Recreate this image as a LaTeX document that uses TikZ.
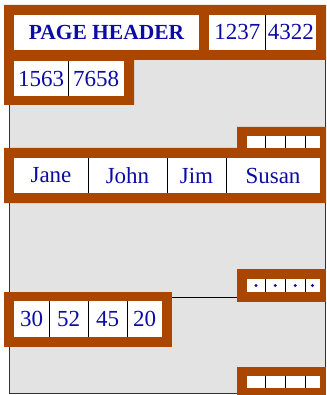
\documentclass[tikz,border=0pt]{standalone}
\usepackage{fontspec}
\setmainfont{Liberation Serif}
\definecolor{frameorange}{RGB}{170,70,0}
\definecolor{pagegray}{RGB}{227,227,227}
\definecolor{txtblue}{RGB}{12,12,165}
\begin{document}
\begin{tikzpicture}[x=1pt,y=-1pt,
  cell/.style={rectangle,fill=white,inner sep=0pt,outer sep=0pt,text=txtblue,font=\fontsize{23}{23}\selectfont},
  hdrcell/.style={cell,font=\fontsize{21.5}{22}\selectfont\bfseries},
  tiny/.style={rectangle,fill=white,inner sep=0pt,outer sep=0pt},
  frame/.style={fill=frameorange},
  divider/.style={black,line width=0.8pt},
  dot/.style={circle,fill=txtblue,inner sep=0pt,minimum size=3.4pt}]
\useasboundingbox (0,0) rectangle (326,395);
% page
\draw[fill=pagegray,draw=black!80,line width=0.9pt] (9.5,40) rectangle (325.5,393.5);
\draw[black,line width=0.9pt] (9.5,297) -- (237,297);
% frames
\fill[frame] (4,5) -- (326,5) -- (326,60) -- (134,60) -- (134,105) -- (4,105) -- cycle;
\fill[frame] (237,127) -- (326,127) -- (326,203) -- (4,203) -- (4,148) -- (237,148) -- cycle;
\fill[frame] (237,269) rectangle (326,302);
\fill[frame] (4,292) rectangle (172,347);
\fill[frame] (237,367) rectangle (326,395);
% header row
\node[hdrcell,minimum width=185pt,minimum height=35pt] (hdr) at (106.5,32.5) {PAGE HEADER};
\node[cell,minimum width=56.5pt,minimum height=35pt] (a1) at (237.25,32.5) {1237};
\node[cell,minimum width=50.5pt,minimum height=35pt] (a2) at (290.75,32.5) {4322};
\draw[divider] (a1.north east) -- (a1.south east);
% second row
\node[cell,minimum width=54.3pt,minimum height=35pt] (b1) at (41.15,78.5) {1563};
\node[cell,minimum width=55.7pt,minimum height=35pt] (b2) at (96.15,78.5) {7658};
\draw[divider] (b1.north east) -- (b1.south east);
% small slot cells (top)
\node[tiny,minimum width=18pt,minimum height=12pt] (s1) at (256,142) {};
\node[tiny,minimum width=20.5pt,minimum height=12pt] (s2) at (275.25,142) {};
\node[tiny,minimum width=19.5pt,minimum height=12pt] (s3) at (295.25,142) {};
\node[tiny,minimum width=15pt,minimum height=12pt] (s4) at (312.5,142) {};
\foreach \c in {s1,s2,s3} \draw[divider] (\c.north east) -- (\c.south east);
% names row
\node[cell,minimum width=74pt,minimum height=35pt] (n1) at (51,175.5) {Jane};
\node[cell,minimum width=79pt,minimum height=35pt] (n2) at (127.5,175.5) {John};
\node[cell,minimum width=59pt,minimum height=35pt] (n3) at (196.5,175.5) {Jim};
\node[cell,minimum width=94pt,minimum height=35pt] (n4) at (273,175.5) {Susan};
\foreach \c in {n1,n2,n3} \draw[divider] (\c.north east) -- (\c.south east);
% pointer cells (middle)
\node[tiny,minimum width=18pt,minimum height=13pt] (p1) at (256,285.5) {};
\node[tiny,minimum width=20.5pt,minimum height=13pt] (p2) at (275.25,285.5) {};
\node[tiny,minimum width=19.5pt,minimum height=13pt] (p3) at (295.25,285.5) {};
\node[tiny,minimum width=15pt,minimum height=13pt] (p4) at (312.5,285.5) {};
\foreach \c in {p1,p2,p3} \draw[divider] (\c.north east) -- (\c.south east);
\foreach \c in {p1,p2,p3,p4} \node[dot] (\c d) at (\c.center) {};
% values row
\node[cell,minimum width=35pt,minimum height=36pt] (v1) at (31.5,319) {30};
\node[cell,minimum width=39pt,minimum height=36pt] (v2) at (68.5,319) {52};
\node[cell,minimum width=39pt,minimum height=36pt] (v3) at (107.5,319) {45};
\node[cell,minimum width=35pt,minimum height=36pt] (v4) at (144.5,319) {20};
\foreach \c in {v1,v2,v3} \draw[divider] (\c.north east) -- (\c.south east);
% bottom slot cells
\node[tiny,minimum width=18pt,minimum height=12pt] (q1) at (256,382) {};
\node[tiny,minimum width=20.5pt,minimum height=12pt] (q2) at (275.25,382) {};
\node[tiny,minimum width=19.5pt,minimum height=12pt] (q3) at (295.25,382) {};
\node[tiny,minimum width=15pt,minimum height=12pt] (q4) at (312.5,382) {};
\foreach \c in {q1,q2,q3} \draw[divider] (\c.north east) -- (\c.south east);
\end{tikzpicture}
\end{document}
